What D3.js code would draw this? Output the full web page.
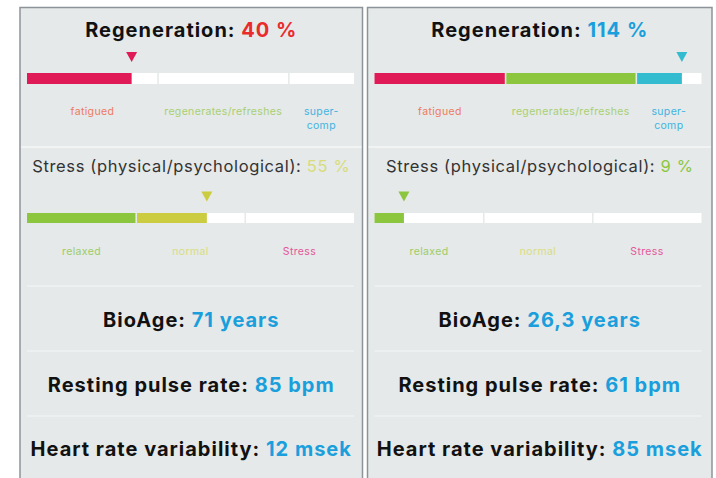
<!DOCTYPE html>
<html>
<head>
<meta charset="utf-8">
<script src="https://cdn.jsdelivr.net/npm/d3@7"></script>
<style>
  body { margin: 0; background: #fff; }
  svg { display: block; }
</style>
</head>
<body>
<div id="chart"></div>
<script>
var width = 716;
var height = 478;

// data, one entry per panel (left, right)
var regenValues = [40, 114];
var regenCategories = ["fatigued", "regenerates/refreshes", "super-|comp"];
var regenBounds = [0, 50, 100, 120];
var stressValues = [55, 9];
var stressCategories = ["relaxed", "normal", "Stress"];
var stressBounds = [0, 33.33, 66.67, 100];
var bioAge = ["71", "26,3"];
var restingPulse = ["85", "61"];
var hrv = ["12", "85"];

// colours
var regenBarColors = ["#e01a57", "#8cc63f", "#33bccf"];
var regenLabelColors = ["#ee7a62", "#a9d071", "#3fb3e2"];
var regenTitleColors = ["#ea2b2b", "#8cc63f", "#1a9fdc"];
var stressBarColors = ["#8cc63f", "#cbcc40", "#e2468c"];
var stressLabelColors = ["#9dcc66", "#d9dd80", "#e4579a"];
var stressTitleColors = ["#8cc63f", "#d8dc78", "#e2468c"];
var blue = "#1a9fdc";
var bg = "#e5e9e9";

var panelX = [[20, 362.5], [367.5, 712]];
var barW = 327;
var font = "Inter, 'Open Sans', sans-serif";

var svg = d3.select("#chart")
    .append("svg")
    .attr("width", width)
    .attr("height", height);

svg.append("rect")
    .attr("width", width)
    .attr("height", height)
    .attr("fill", "#fff");

function category(bounds, v) {
    for (var k = 0; k < bounds.length - 2; k++) {
        if (v < bounds[k + 1]) return k;
    }
    return bounds.length - 2;
}

function drawBar(g, x0, y, h, bounds, fracs, value, colors, triY) {
    var n = bounds.length - 1;
    var x = d3.scaleLinear()
        .domain(bounds)
        .range(fracs.map(function (f) { return x0 + barW * f; }));

    for (var k = 0; k < n; k++) {
        var a = x(bounds[k]) + (k > 0 ? 1 : 0);
        var b = x(bounds[k + 1]) - (k < n - 1 ? 0.5 : 0);
        g.append("rect")
            .attr("x", a).attr("y", y)
            .attr("width", b - a).attr("height", h)
            .attr("fill", "#fff");
        if (value > bounds[k]) {
            var e = value >= bounds[k + 1] ? b : x(value);
            g.append("rect")
                .attr("x", a).attr("y", y)
                .attr("width", e - a).attr("height", h)
                .attr("fill", colors[k]);
        }
    }
    var tx = x(value);
    var c = colors[category(bounds, value)];
    g.append("path")
        .attr("d", "M" + (tx - 5.5) + "," + triY + "L" + (tx + 5.5) + "," + triY + "L" + tx + "," + (triY + 10) + "Z")
        .attr("fill", c);
    return x;
}

function labels(g, x, bounds, names, colors, y) {
    for (var k = 0; k < names.length; k++) {
        var cx = (x(bounds[k]) + x(bounds[k + 1])) / 2;
        var parts = names[k].split("|");
        var t = g.append("text")
            .attr("x", cx).attr("y", y)
            .attr("text-anchor", "middle")
            .attr("font-family", font)
            .attr("font-size", 10.5)
            .attr("letter-spacing", 0.35)
            .attr("fill", colors[k]);
        parts.forEach(function (p, j) {
            t.append("tspan").attr("x", cx).attr("dy", j === 0 ? 0 : 14).text(p);
        });
    }
}

function title(g, cx, y, label, value, color, weight, size, spacing, labelColor) {
    var t = g.append("text")
        .attr("x", cx).attr("y", y)
        .attr("text-anchor", "middle")
        .attr("font-family", font)
        .attr("font-weight", weight)
        .attr("font-size", size)
        .attr("letter-spacing", spacing);
    t.append("tspan").attr("fill", labelColor).text(label);
    t.append("tspan").attr("fill", color).text(value);
}

for (i = 0; i < panelX.length; i++) {
    var px0 = panelX[i][0];
    var px1 = panelX[i][1];
    var cx = (px0 + px1) / 2;
    var bx = px0 + 7;
    var g = svg.append("g");

    //Panel
    g.append("rect")
        .attr("x", px0).attr("y", 7.5)
        .attr("width", px1 - px0).attr("height", height)
        .attr("fill", bg)
        .attr("stroke", "#8d9499")
        .attr("stroke-width", 1.5);

    //Regeneration
    var rc = category(regenBounds, regenValues[i]);
    title(g, cx, 37, "Regeneration: ", regenValues[i] + " %", regenTitleColors[rc === 0 ? 0 : 2], 700, 20, 1, "#111");
    var xr = drawBar(g, bx, 73, 11, regenBounds, [0, 0.4, 0.8, 1], regenValues[i], regenBarColors, 52);
    labels(g, xr, regenBounds, regenCategories, regenLabelColors, 115);

    //Divider
    g.append("line")
        .attr("x1", px0 + 1).attr("x2", px1 - 1)
        .attr("y1", 147).attr("y2", 147)
        .attr("stroke", "#f6f7f7").attr("stroke-width", 1.5);

    //Stress
    var sc = category(stressBounds, stressValues[i]);
    title(g, cx, 172, "Stress (physical/psychological): ", stressValues[i] + " %", stressTitleColors[sc], 400, 16.5, 0.65, "#333");
    var xs = drawBar(g, bx, 213, 10, stressBounds, [0, 1 / 3, 2 / 3, 1], stressValues[i], stressBarColors, 191.5);
    labels(g, xs, stressBounds, stressCategories, stressLabelColors, 255);

    //Metrics
    var rows = [
        ["BioAge: ", bioAge[i] + " years", 327],
        ["Resting pulse rate: ", restingPulse[i] + " bpm", 392],
        ["Heart rate variability: ", hrv[i] + " msek", 456]
    ];
    [286, 351, 416].forEach(function (ly) {
        g.append("line")
            .attr("x1", bx).attr("x2", bx + barW)
            .attr("y1", ly).attr("y2", ly)
            .attr("stroke", "#f6f7f7").attr("stroke-width", 1.2);
    });
    rows.forEach(function (r) {
        title(g, cx, r[2], r[0], r[1], blue, 700, 20, 1, "#111");
    });
}
</script>
</body>
</html>
